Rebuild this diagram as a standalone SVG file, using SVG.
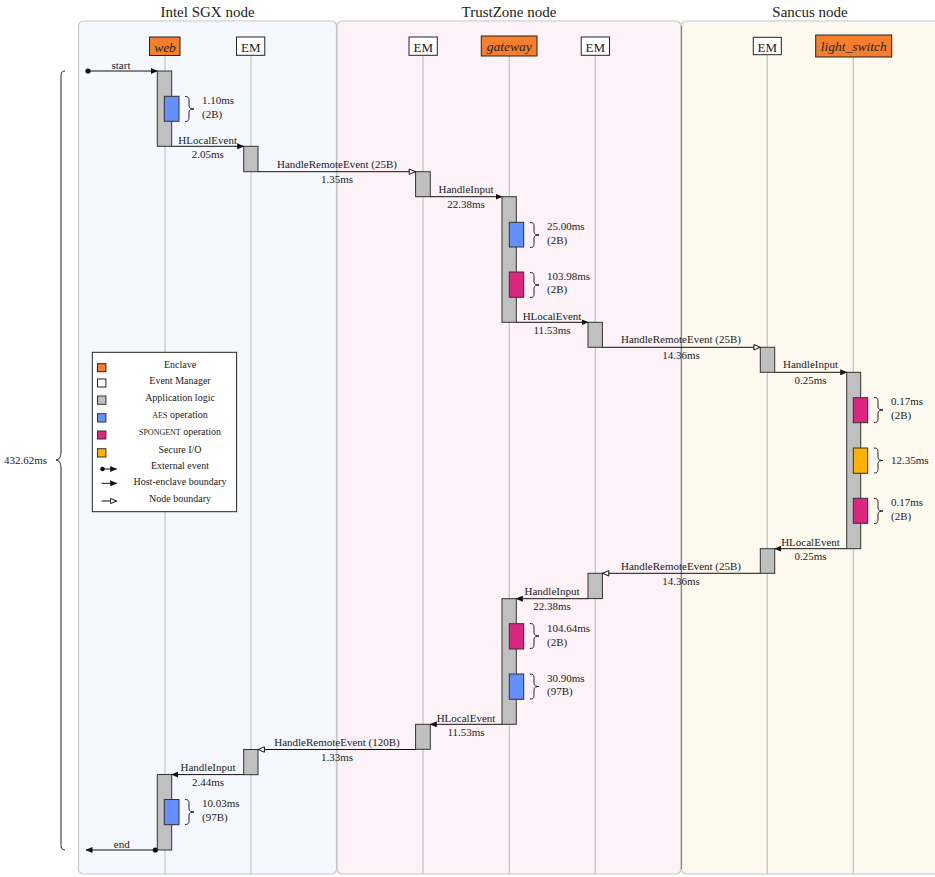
<svg xmlns="http://www.w3.org/2000/svg" width="935" height="877" viewBox="0 0 935 877">
<defs>
<style>
text{font-family:"Liberation Serif","Times New Roman",serif;fill:#222}
.title{font-size:15px;text-anchor:middle}
.hdr{font-size:13px;text-anchor:middle}
.hdri{font-size:13.5px;text-anchor:middle;font-style:italic}
.lbl{font-size:11px;text-anchor:middle}
.ann{font-size:11px}
.leg{font-size:10px;text-anchor:middle}
.life{stroke:#c6c6c6;stroke-width:1.3;fill:none}
.box{stroke:#222;stroke-width:1}
.act{fill:#c0c0c0;stroke:#333;stroke-width:1}
.aes{fill:#648fff;stroke:#333;stroke-width:1}
.spg{fill:#dc267f;stroke:#333;stroke-width:1}
.sio{fill:#ffb000;stroke:#333;stroke-width:1}
.enc{fill:#f77e2d}
.brace{fill:none;stroke:#222;stroke-width:1}
.con{stroke:#111;stroke-width:1;fill:none}
.f{marker-end:url(#fh)}
.o{marker-end:url(#oh)}
</style>
<marker id="fh" viewBox="0 0 7 6" refX="6.5" refY="3" markerWidth="7" markerHeight="6" markerUnits="userSpaceOnUse" orient="auto">
<path d="M0,0 L7,3 L0,6 z" fill="#111"/>
</marker>
<marker id="oh" viewBox="0 0 8 7" refX="7.2" refY="3.5" markerWidth="8" markerHeight="7" markerUnits="userSpaceOnUse" orient="auto">
<path d="M0.8,0.8 L7,3.5 L0.8,6.2 z" fill="#fff" stroke="#111" stroke-width="1"/>
</marker>
</defs>

<g id="panels">
<rect x="78.5" y="21" width="258" height="853" rx="5" fill="#f5f8fe" stroke="#c8c8c8" stroke-width="1.2"/>
<rect x="337" y="21" width="344" height="853" rx="5" fill="#fcf2f8" stroke="#c8c8c8" stroke-width="1.2"/>
<rect x="681.5" y="21" width="270" height="853" rx="5" fill="#fdf9ef" stroke="#c8c8c8" stroke-width="1.2"/>
<line x1="681.5" y1="26" x2="681.5" y2="869" stroke="#8a8a8a" stroke-width="1.2"/>
<text class="title" x="207.5" y="17">Intel SGX node</text>
<text class="title" x="509" y="17">TrustZone node</text>
<text class="title" x="810" y="17">Sancus node</text>
</g>

<g id="node-web">
<line class="life" x1="165" y1="55" x2="165" y2="874"/>
<rect class="box enc" x="149.5" y="37" width="30.5" height="18.5"/>
<text class="hdri" x="165" y="51.5">web</text>
<rect class="act" x="157.3" y="71" width="14.4" height="75.3"/>
<rect class="aes" x="164.3" y="96.3" width="14.7" height="25"/>
<rect class="act" x="157.3" y="774.5" width="14.4" height="75.5"/>
<rect class="aes" x="164.3" y="799.5" width="14.7" height="25.2"/>
</g>

<g id="node-em-sgx">
<line class="life" x1="251" y1="55" x2="251" y2="874"/>
<rect class="box" fill="#fff" x="236.5" y="37" width="28.3" height="18.3"/>
<text class="hdr" x="250.7" y="51.5">EM</text>
<rect class="act" x="243.7" y="146.3" width="14.3" height="25.4"/>
<rect class="act" x="243.7" y="749.5" width="14.3" height="25.2"/>
</g>

<g id="node-em-tz1">
<line class="life" x1="423" y1="55" x2="423" y2="874"/>
<rect class="box" fill="#fff" x="409" y="37" width="28.3" height="18.3"/>
<text class="hdr" x="423.2" y="51.5">EM</text>
<rect class="act" x="415.6" y="171.7" width="14.7" height="25"/>
<rect class="act" x="415.6" y="724.3" width="14.7" height="25"/>
</g>

<g id="node-gateway">
<line class="life" x1="509.3" y1="56" x2="509.3" y2="874"/>
<rect class="box enc" x="481.3" y="36" width="55.7" height="20"/>
<text class="hdri" x="509.2" y="50.5">gateway</text>
<rect class="act" x="502" y="196.7" width="14.3" height="125.6"/>
<rect class="aes" x="509.3" y="222.3" width="14.4" height="24.7"/>
<rect class="spg" x="509.3" y="272" width="14.4" height="25.3"/>
<rect class="act" x="502" y="598.7" width="14.3" height="125.6"/>
<rect class="spg" x="509.3" y="623.7" width="14.4" height="25.3"/>
<rect class="aes" x="509.3" y="674" width="14.4" height="25.3"/>
</g>

<g id="node-em-tz2">
<line class="life" x1="595.3" y1="55" x2="595.3" y2="874"/>
<rect class="box" fill="#fff" x="581.2" y="37" width="28.3" height="18.3"/>
<text class="hdr" x="595.3" y="51.5">EM</text>
<rect class="act" x="588" y="322.3" width="14.4" height="25"/>
<rect class="act" x="588" y="573.3" width="14.4" height="25.3"/>
</g>

<g id="node-em-sancus">
<line class="life" x1="767.3" y1="55" x2="767.3" y2="874"/>
<rect class="box" fill="#fff" x="753.3" y="37.3" width="28" height="17.4"/>
<text class="hdr" x="767.3" y="51.5">EM</text>
<rect class="act" x="760.3" y="347.3" width="14.4" height="25"/>
<rect class="act" x="760.3" y="548.7" width="14.4" height="24.6"/>
</g>

<g id="node-light-switch">
<line class="life" x1="853.3" y1="57" x2="853.3" y2="874"/>
<rect class="box enc" x="815.7" y="35" width="76" height="22"/>
<text class="hdri" x="853.7" y="50.5">light_switch</text>
<rect class="act" x="846.7" y="372.3" width="14" height="176.4"/>
<rect class="spg" x="853.3" y="397.7" width="14.4" height="25"/>
<rect class="sio" x="853.3" y="448" width="14.4" height="25.3"/>
<rect class="spg" x="853.3" y="498.3" width="14.4" height="25"/>
</g>

<g id="annotations">
<path class="brace" d="M185,96.5 C189,96.5 189,98.5 189,101 L189,106 C189,108 191,109 194,109 C191,109 189,110 189,112 L189,117 C189,119.5 189,121.5 185,121.5"/>
<text class="ann" x="202" y="104">1.10ms</text><text class="ann" x="202" y="117.5">(2B)</text>
<path class="brace" d="M530,222.5 C534,222.5 534,224.5 534,227 L534,232 C534,234 536,235 539,235 C536,235 534,236 534,238 L534,243 C534,245.5 534,247.5 530,247.5"/>
<text class="ann" x="547" y="229.5">25.00ms</text><text class="ann" x="547" y="243.5">(2B)</text>
<path class="brace" d="M530,272.5 C534,272.5 534,274.5 534,277 L534,282 C534,284 536,285 539,285 C536,285 534,286 534,288 L534,293 C534,295.5 534,297.5 530,297.5"/>
<text class="ann" x="547" y="279.5">103.98ms</text><text class="ann" x="547" y="293">(2B)</text>
<path class="brace" d="M874,397.5 C878,397.5 878,399.5 878,402 L878,407 C878,409 880,410 883,410 C880,410 878,411 878,413 L878,418 C878,420.5 878,422.5 874,422.5"/>
<text class="ann" x="891" y="405">0.17ms</text><text class="ann" x="891" y="418.5">(2B)</text>
<path class="brace" d="M874,448 C878,448 878,450 878,452.5 L878,457.5 C878,459.5 880,460.5 883,460.5 C880,460.5 878,461.5 878,463.5 L878,468.5 C878,471 878,473 874,473"/>
<text class="ann" x="891" y="463.5">12.35ms</text>
<path class="brace" d="M874,498.5 C878,498.5 878,500.5 878,503 L878,508 C878,510 880,511 883,511 C880,511 878,512 878,514 L878,519 C878,521.5 878,523.5 874,523.5"/>
<text class="ann" x="891" y="506">0.17ms</text><text class="ann" x="891" y="519.5">(2B)</text>
<path class="brace" d="M530,623.5 C534,623.5 534,625.5 534,628 L534,633 C534,635 536,636 539,636 C536,636 534,637 534,639 L534,644 C534,646.5 534,648.5 530,648.5"/>
<text class="ann" x="547" y="632">104.64ms</text><text class="ann" x="547" y="645.5">(2B)</text>
<path class="brace" d="M530,674 C534,674 534,676 534,678.5 L534,683.5 C534,685.5 536,686.5 539,686.5 C536,686.5 534,687.5 534,689.5 L534,694.5 C534,697 534,699 530,699"/>
<text class="ann" x="547" y="681.5">30.90ms</text><text class="ann" x="547" y="695">(97B)</text>
<path class="brace" d="M185,799.5 C189,799.5 189,801.5 189,804 L189,809 C189,811 191,812 194,812 C191,812 189,813 189,815 L189,820 C189,822.5 189,824.5 185,824.5"/>
<text class="ann" x="202" y="807">10.03ms</text><text class="ann" x="202" y="820.5">(97B)</text>
<path class="brace" d="M65,71 C61,71 61,74 61,78 L61,452 C61,457 59,460 56,460 C59,460 61,463 61,468 L61,843 C61,847 61,850 65,850"/>
<text class="ann" x="47" y="464" text-anchor="end">432.62ms</text>
</g>

<g id="connectors">
<circle cx="88" cy="71" r="2.6" fill="#111"/>
<line class="con f" x1="88" y1="71" x2="157.3" y2="71"/>
<text class="lbl" x="121" y="69">start</text>
<line class="con f" x1="171.7" y1="146.3" x2="243.7" y2="146.3"/>
<text class="lbl" x="207.7" y="144">HLocalEvent</text><text class="lbl" x="207.7" y="158">2.05ms</text>
<line class="con o" x1="258" y1="171.7" x2="415.6" y2="171.7"/>
<text class="lbl" x="337" y="167.5">HandleRemoteEvent (25B)</text><text class="lbl" x="337" y="183">1.35ms</text>
<line class="con f" x1="430.3" y1="196.7" x2="502" y2="196.7"/>
<text class="lbl" x="466" y="192.5">HandleInput</text><text class="lbl" x="466" y="207.5">22.38ms</text>
<line class="con f" x1="516.3" y1="322.3" x2="588" y2="322.3"/>
<text class="lbl" x="552" y="320">HLocalEvent</text><text class="lbl" x="552" y="334">11.53ms</text>
<line class="con o" x1="602.4" y1="347.3" x2="760.3" y2="347.3"/>
<text class="lbl" x="681" y="343">HandleRemoteEvent (25B)</text><text class="lbl" x="681" y="358.5">14.36ms</text>
<line class="con f" x1="774.7" y1="372.3" x2="846.7" y2="372.3"/>
<text class="lbl" x="810.5" y="368">HandleInput</text><text class="lbl" x="810.5" y="383.5">0.25ms</text>
<line class="con f" x1="846.7" y1="548.7" x2="774.7" y2="548.7"/>
<text class="lbl" x="810.5" y="546">HLocalEvent</text><text class="lbl" x="810.5" y="560">0.25ms</text>
<line class="con o" x1="760.3" y1="573.3" x2="602.4" y2="573.3"/>
<text class="lbl" x="681" y="569.5">HandleRemoteEvent (25B)</text><text class="lbl" x="681" y="584.5">14.36ms</text>
<line class="con f" x1="588" y1="598.7" x2="516.3" y2="598.7"/>
<text class="lbl" x="552" y="594.5">HandleInput</text><text class="lbl" x="552" y="609.5">22.38ms</text>
<line class="con f" x1="502" y1="724.3" x2="430.3" y2="724.3"/>
<text class="lbl" x="466" y="722">HLocalEvent</text><text class="lbl" x="466" y="736">11.53ms</text>
<line class="con o" x1="415.6" y1="749.5" x2="258" y2="749.5"/>
<text class="lbl" x="337" y="746">HandleRemoteEvent (120B)</text><text class="lbl" x="337" y="761">1.33ms</text>
<line class="con f" x1="243.7" y1="774.6" x2="171.7" y2="774.6"/>
<text class="lbl" x="208" y="770.5">HandleInput</text><text class="lbl" x="208" y="786">2.44ms</text>
<circle cx="155.3" cy="850" r="2.6" fill="#111"/>
<line class="con f" x1="155.3" y1="850" x2="86" y2="850"/>
<text class="lbl" x="121.7" y="847.5">end</text>
</g>

<g id="legend">
<rect x="92.3" y="352.3" width="144.3" height="159.4" fill="#fff" stroke="#222" stroke-width="1"/>
<rect class="box enc" x="97.5" y="363.7" width="8.4" height="8"/>
<rect class="box" fill="#fff" x="97.5" y="379" width="8.4" height="8"/>
<rect class="act" x="97.5" y="396" width="8.4" height="8.3"/>
<rect class="aes" x="97.5" y="413.7" width="8.4" height="8.3"/>
<rect class="spg" x="97.5" y="431" width="8.4" height="8"/>
<rect class="sio" x="97.5" y="448.7" width="8.4" height="8.3"/>
<text class="leg" x="180" y="368">Enclave</text>
<text class="leg" x="180" y="383.5">Event Manager</text>
<text class="leg" x="180" y="400.5">Application logic</text>
<text class="leg" x="180" y="417.5"><tspan font-size="8">AES</tspan> operation</text>
<text class="leg" x="180" y="435"><tspan font-size="8">SPONGENT</tspan> operation</text>
<text class="leg" x="180" y="452.5">Secure I/O</text>
<text class="leg" x="180" y="469">External event</text>
<text class="leg" x="180" y="484.5">Host-enclave boundary</text>
<text class="leg" x="180" y="502">Node boundary</text>
<circle cx="102.5" cy="469" r="2.3" fill="#111"/>
<line class="con f" x1="102.5" y1="469" x2="116.7" y2="469"/>
<line class="con f" x1="101.5" y1="483.3" x2="116.7" y2="483.3"/>
<line class="con o" x1="101.5" y1="501" x2="116.7" y2="501"/>
</g>
</svg>
